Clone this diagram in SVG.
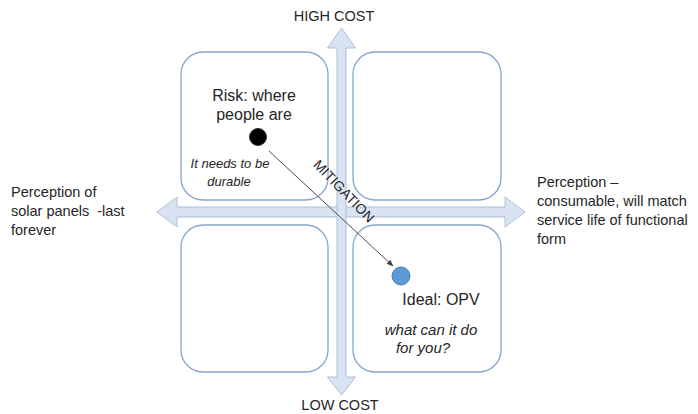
<svg xmlns="http://www.w3.org/2000/svg" width="698" height="414" viewBox="0 0 698 414">
<defs>
<style>
.box{fill:#fff;stroke:#86a6cc;stroke-width:1.3}
.axis{fill:#d9e3f1;stroke:#aabfdb;stroke-width:1}
text{font-family:"Liberation Sans",Arial,sans-serif;fill:#262626}
.lbl{font-size:14.5px}
.big{font-size:16px}
.it{font-size:13px;font-style:italic}
.it2{font-size:15px;font-style:italic}
.conn{stroke:#505050;stroke-width:1;fill:none}
</style>
<marker id="ah" viewBox="0 0 10 10" refX="9" refY="5" markerWidth="7" markerHeight="7" markerUnits="userSpaceOnUse" orient="auto">
<path d="M0,1 L10,5 L0,9 z" fill="#404040"/>
</marker>
</defs>
<rect width="698" height="414" fill="#fff"/>
<g id="box-tl"><rect class="box" x="181" y="52" width="147" height="148" rx="22"/></g>
<g id="box-tr"><rect class="box" x="353" y="52" width="148" height="148" rx="22"/></g>
<g id="box-bl"><rect class="box" x="181" y="225" width="147" height="147" rx="22"/></g>
<g id="box-br"><rect class="box" x="353" y="225" width="148" height="147" rx="22"/></g>
<g id="axis-h"><polygon class="axis" points="157,212 177,197 177,207 505,207 505,197 525,212 505,227 505,217 177,217 177,227"/></g>
<g id="axis-v"><polygon class="axis" points="341.5,28 355.5,48 346,48 346,377 355.5,377 341.5,395 327.5,377 337,377 337,48 327.5,48"/></g>
<g id="labels">
<text class="lbl" x="334" y="21" text-anchor="middle" font-size="13.5">HIGH COST</text>
<text class="lbl" x="340" y="410" text-anchor="middle" font-size="13.5">LOW COST</text>
<text class="lbl" x="11" y="197">Perception of</text>
<text class="lbl" x="11" y="216" xml:space="preserve">solar panels  -last</text>
<text class="lbl" x="11" y="235">forever</text>
<text class="lbl" x="537" y="187">Perception –</text>
<text class="lbl" x="537" y="206">consumable, will match</text>
<text class="lbl" x="537" y="225">service life of functional</text>
<text class="lbl" x="537" y="244">form</text>
</g>
<g id="risk">
<text class="big" x="254" y="101" text-anchor="middle">Risk: where</text>
<text class="big" x="254" y="120" text-anchor="middle">people are</text>
<circle cx="258" cy="137" r="8.5" fill="#000" stroke="#333" stroke-width="1"/>
<text class="it" x="230" y="168" text-anchor="middle">It needs to be</text>
<text class="it" x="229" y="186" text-anchor="middle">durable</text>
</g>
<g id="ideal">
<circle cx="401" cy="276" r="9" fill="#5b9bd5" stroke="#4a7fb5" stroke-width="1"/>
<text class="big" x="441" y="305" text-anchor="middle">Ideal: OPV</text>
<text class="it2" x="431" y="335" text-anchor="middle">what can it do</text>
<text class="it2" x="423" y="353" text-anchor="middle">for you?</text>
</g>
<g id="connectors">
<line class="conn" x1="269" y1="151" x2="393" y2="266" marker-end="url(#ah)"/>
<text x="344" y="196" font-size="14" text-anchor="middle" transform="rotate(46 344 191)">MITIGATION</text>
</g>
</svg>
